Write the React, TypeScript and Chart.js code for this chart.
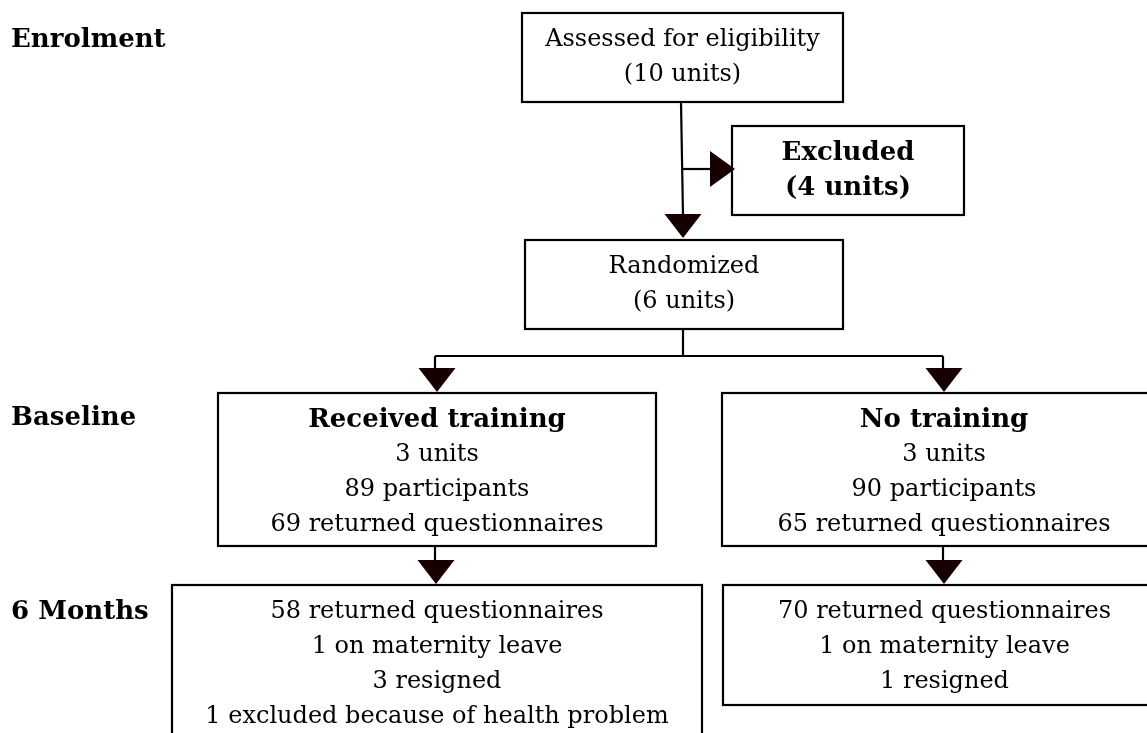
import React, { useEffect, useRef } from "react";
import { Chart, registerables } from "chart.js";

Chart.register(...registerables);

// ---- content ----
const stageLabels = ["Enrolment", "Baseline", "6 Months"];
const assessedLines = ["Assessed for eligibility", "(10 units)"];
const excludedLines = ["Excluded", "(4 units)"];
const randomizedLines = ["Randomized", "(6 units)"];
const trainingLines = ["Received training", "3 units", "89 participants", "69 returned questionnaires"];
const noTrainingLines = ["No training", "3 units", "90 participants", "65 returned questionnaires"];
const trainingFollowUpLines = [
  "58 returned questionnaires",
  "1 on maternity leave",
  "3 resigned",
  "1 excluded because of health problem",
];
const noTrainingFollowUpLines = ["70 returned questionnaires", "1 on maternity leave", "1 resigned"];

// ---- layout (scale units, y grows downward) ----
const W = 1147;
const H = 733;
const FONT = '"DejaVu Serif", "Liberation Serif", serif';
const FS = 24;
const FS_BOLD = 26;
const LINE = 35;
const FIRST = 27;
const INK = "#000000";
const ARROW = "#160000";

type Box = { x0: number; y0: number; x1: number; y1: number; lines: string[]; bold: "all" | "first" | "none" };

const boxes: Box[] = [
  { x0: 522, y0: 13, x1: 843, y1: 102, lines: assessedLines, bold: "none" },
  { x0: 732, y0: 126, x1: 964, y1: 215, lines: excludedLines, bold: "all" },
  { x0: 525, y0: 240, x1: 843, y1: 329, lines: randomizedLines, bold: "none" },
  { x0: 218, y0: 393, x1: 656, y1: 546, lines: trainingLines, bold: "first" },
  { x0: 722, y0: 393, x1: 1166, y1: 546, lines: noTrainingLines, bold: "first" },
  { x0: 172, y0: 585, x1: 702, y1: 750, lines: trainingFollowUpLines, bold: "none" },
  { x0: 723, y0: 585, x1: 1166, y1: 705, lines: noTrainingFollowUpLines, bold: "none" },
];

const stageY = [40, 418, 612];
const stageX = 11;

// polylines [x,y,...]
const connectors: number[][] = [
  [681, 102, 683, 216],
  [682, 169, 711, 169],
  [683, 329, 683, 356],
  [435, 356, 943, 356],
  [435, 356, 435, 369],
  [943, 356, 943, 369],
  [435, 546, 435, 562],
  [943, 546, 943, 562],
];

const arrows: { x: number; y: number; dir: "down" | "right" }[] = [
  { x: 683, y: 238, dir: "down" },
  { x: 735, y: 169, dir: "right" },
  { x: 437, y: 392, dir: "down" },
  { x: 944, y: 392, dir: "down" },
  { x: 436, y: 584, dir: "down" },
  { x: 944, y: 584, dir: "down" },
];

const flowPlugin = {
  id: "flow",
  afterDraw(chart: any) {
    const ctx: CanvasRenderingContext2D = chart.ctx;
    const xs = chart.scales.x;
    const ys = chart.scales.y;
    const px = (v: number) => xs.getPixelForValue(v);
    const py = (v: number) => ys.getPixelForValue(v);
    ctx.save();

    ctx.strokeStyle = INK;
    ctx.lineWidth = 2.2;
    boxes.forEach((b) => {
      ctx.strokeRect(px(b.x0), py(b.y0), px(b.x1) - px(b.x0), py(b.y1) - py(b.y0));
      const cx = (px(b.x0) + px(b.x1)) / 2;
      ctx.fillStyle = INK;
      ctx.textAlign = "center";
      ctx.textBaseline = "middle";
      b.lines.forEach((t, i) => {
        const bold = b.bold === "all" || (b.bold === "first" && i === 0);
        ctx.font = bold ? `bold ${FS_BOLD}px ${FONT}` : `${FS}px ${FONT}`;
        ctx.fillText(t, cx, py(b.y0 + FIRST + i * LINE));
      });
    });

    ctx.textAlign = "left";
    ctx.font = `bold ${FS_BOLD}px ${FONT}`;
    stageLabels.forEach((t, i) => ctx.fillText(t, px(stageX), py(stageY[i])));

    connectors.forEach((pts) => {
      ctx.beginPath();
      ctx.moveTo(px(pts[0]), py(pts[1]));
      for (let k = 2; k < pts.length; k += 2) ctx.lineTo(px(pts[k]), py(pts[k + 1]));
      ctx.stroke();
    });

    ctx.fillStyle = ARROW;
    arrows.forEach((a) => {
      ctx.beginPath();
      if (a.dir === "down") {
        ctx.moveTo(px(a.x), py(a.y));
        ctx.lineTo(px(a.x - 18.5), py(a.y - 24));
        ctx.lineTo(px(a.x + 18.5), py(a.y - 24));
      } else {
        ctx.moveTo(px(a.x), py(a.y));
        ctx.lineTo(px(a.x - 25), py(a.y - 18));
        ctx.lineTo(px(a.x - 25), py(a.y + 18));
      }
      ctx.closePath();
      ctx.fill();
    });
    ctx.restore();
  },
};

export default function App() {
  const ref = useRef<HTMLCanvasElement | null>(null);
  useEffect(() => {
    if (!ref.current) return;
    const chart = new Chart(ref.current, {
      type: "scatter",
      data: { datasets: [{ data: [], showLine: false }] },
      options: {
        animation: false,
        responsive: true,
        maintainAspectRatio: false,
        layout: { padding: 0 },
        scales: {
          x: { type: "linear", min: 0, max: W, display: false },
          y: { type: "linear", min: 0, max: H, reverse: true, display: false },
        },
        plugins: { legend: { display: false }, tooltip: { enabled: false } },
      },
      plugins: [flowPlugin],
    });
    return () => chart.destroy();
  }, []);
  return (
    <div style={{ position: "fixed", left: 0, top: 0, width: W, height: H, background: "#fff" }}>
      <canvas ref={ref} />
    </div>
  );
}
